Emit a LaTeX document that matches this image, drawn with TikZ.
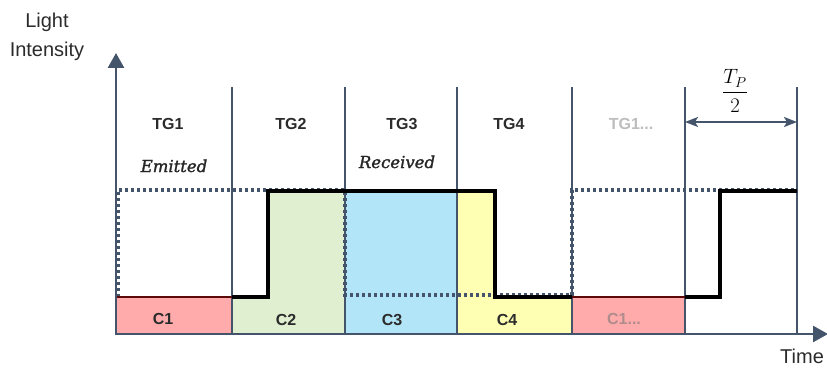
\documentclass[tikz,border=0pt]{standalone}
\usepackage{fontspec}
\usepackage{amsmath}
\setmainfont{Liberation Sans}
\newfontfamily\slabit[FakeBold=1.5]{DejaVu Serif}
\usetikzlibrary{arrows.meta}

\definecolor{axisgray}{HTML}{44546A}
\definecolor{labelgray}{HTML}{2B2B2B}
\definecolor{fadegray}{HTML}{BDBDBD}
\definecolor{fadepink}{HTML}{B08C8C}
\definecolor{redfill}{HTML}{FFABAB}
\definecolor{redline}{HTML}{5A0808}
\definecolor{greenfill}{HTML}{DFEFCF}
\definecolor{greenline}{HTML}{9AAE8A}
\definecolor{bluefill}{HTML}{B2E5F8}
\definecolor{blueline}{HTML}{5C9DB6}
\definecolor{yellowfill}{HTML}{FFFFB4}
\definecolor{yellowline}{HTML}{C9C96A}

\begin{document}
\begin{tikzpicture}[x=1pt, y=-1pt,
  axis/.style={draw=axisgray, line width=2.6pt, -{Triangle[width=16pt,length=15pt]}},
  slot/.style={draw=axisgray, line width=1.4pt},
  emitted/.style={draw=axisgray, line width=3.4pt, dash pattern=on 3.4pt off 2.6pt},
  received/.style={draw=black, line width=3.2pt, line join=miter},
  chiptop/.style={draw=redline, line width=2.8pt},
  tglabel/.style={font=\fontsize{16}{19}\selectfont\bfseries, text=labelgray, anchor=base, inner sep=0pt},
  chiplabel/.style={font=\fontsize{16}{19}\selectfont\bfseries, text=labelgray, anchor=base, inner sep=0pt},
  sigtag/.style={font=\fontsize{16.5}{19}\selectfont\slabit\itshape, text=black!85, anchor=base, inner sep=0pt},
  axislabel/.style={font=\fontsize{20}{29}\selectfont, text=labelgray, inner sep=0pt}
]
\useasboundingbox (0,0) rectangle (827,369);

% chip areas
\fill[redfill] (116,297) rectangle (232,333);
\filldraw[fill=greenfill, draw=greenline, line width=0.8pt]
  (232,297) -- (268,297) -- (268,190) -- (345,190) -- (345,333) -- (232,333) -- cycle;
\filldraw[fill=bluefill, draw=blueline, line width=0.8pt] (345,190) rectangle (457,333);
\filldraw[fill=yellowfill, draw=yellowline, line width=0.8pt]
  (457,190) -- (495,190) -- (495,297) -- (572,297) -- (572,333) -- (457,333) -- cycle;
\filldraw[fill=redfill, draw=redline!70, line width=0.8pt] (572,297) rectangle (685,333);

% time-slot boundaries
\foreach \sx in {232,345,457,572,685,797}
  \draw[slot] (\sx,87) -- (\sx,333);

% emitted signal
\draw[emitted] (118,297) -- (118,190) -- (345,190) -- (345,295) -- (572,295) -- (572,190) -- (797,190);

% received signal
\draw[received] (232,297) -- (268,297) -- (268,191) -- (495,191) -- (495,297) -- (572,297);
\draw[received] (685,297) -- (720,297) -- (720,191) -- (797,191);
\draw[chiptop] (116,297) -- (232,297);
\draw[chiptop] (572,297) -- (685,297);

% axes
\draw[axis] (116,334) -- (116,53);
\draw[axis] (115,334) -- (828,334);

% half-period marker
\coordinate (hpA) at (685,122);
\coordinate (hpB) at (797,122);
\draw[draw=axisgray, line width=2pt, {Stealth[length=13pt,width=10pt,inset=3pt]}-{Stealth[length=13pt,width=10pt,inset=3pt]}] (hpA) -- (hpB);
\node[inner sep=0pt, font=\fontsize{21}{24}\selectfont] (hp) at (735,91) {$\displaystyle\frac{T_P}{2}$};

% axis titles
\node[axislabel, align=center, anchor=north] (yl) at (47,13) {Light\\Intensity};
\node[axislabel, anchor=base west] (xl) at (780,363) {Time};

% time-group labels
\node[tglabel] (tg1) at (168,129) {TG1};
\node[tglabel] (tg2) at (291,129) {TG2};
\node[tglabel] (tg3) at (402,129) {TG3};
\node[tglabel] (tg4) at (509,129) {TG4};
\node[tglabel, text=fadegray] (tg5) at (631,129) {TG1...};

% signal names
\node[sigtag] (em) at (174,172) {Emitted};
\node[sigtag] (rc) at (397,168) {Received};

% chip labels
\node[chiplabel] (c1) at (163,324) {C1};
\node[chiplabel] (c2) at (286,325) {C2};
\node[chiplabel] (c3) at (392,325) {C3};
\node[chiplabel] (c4) at (507,325) {C4};
\node[chiplabel, text=fadepink] (c5) at (624,324) {C1...};
\end{tikzpicture}
\end{document}
